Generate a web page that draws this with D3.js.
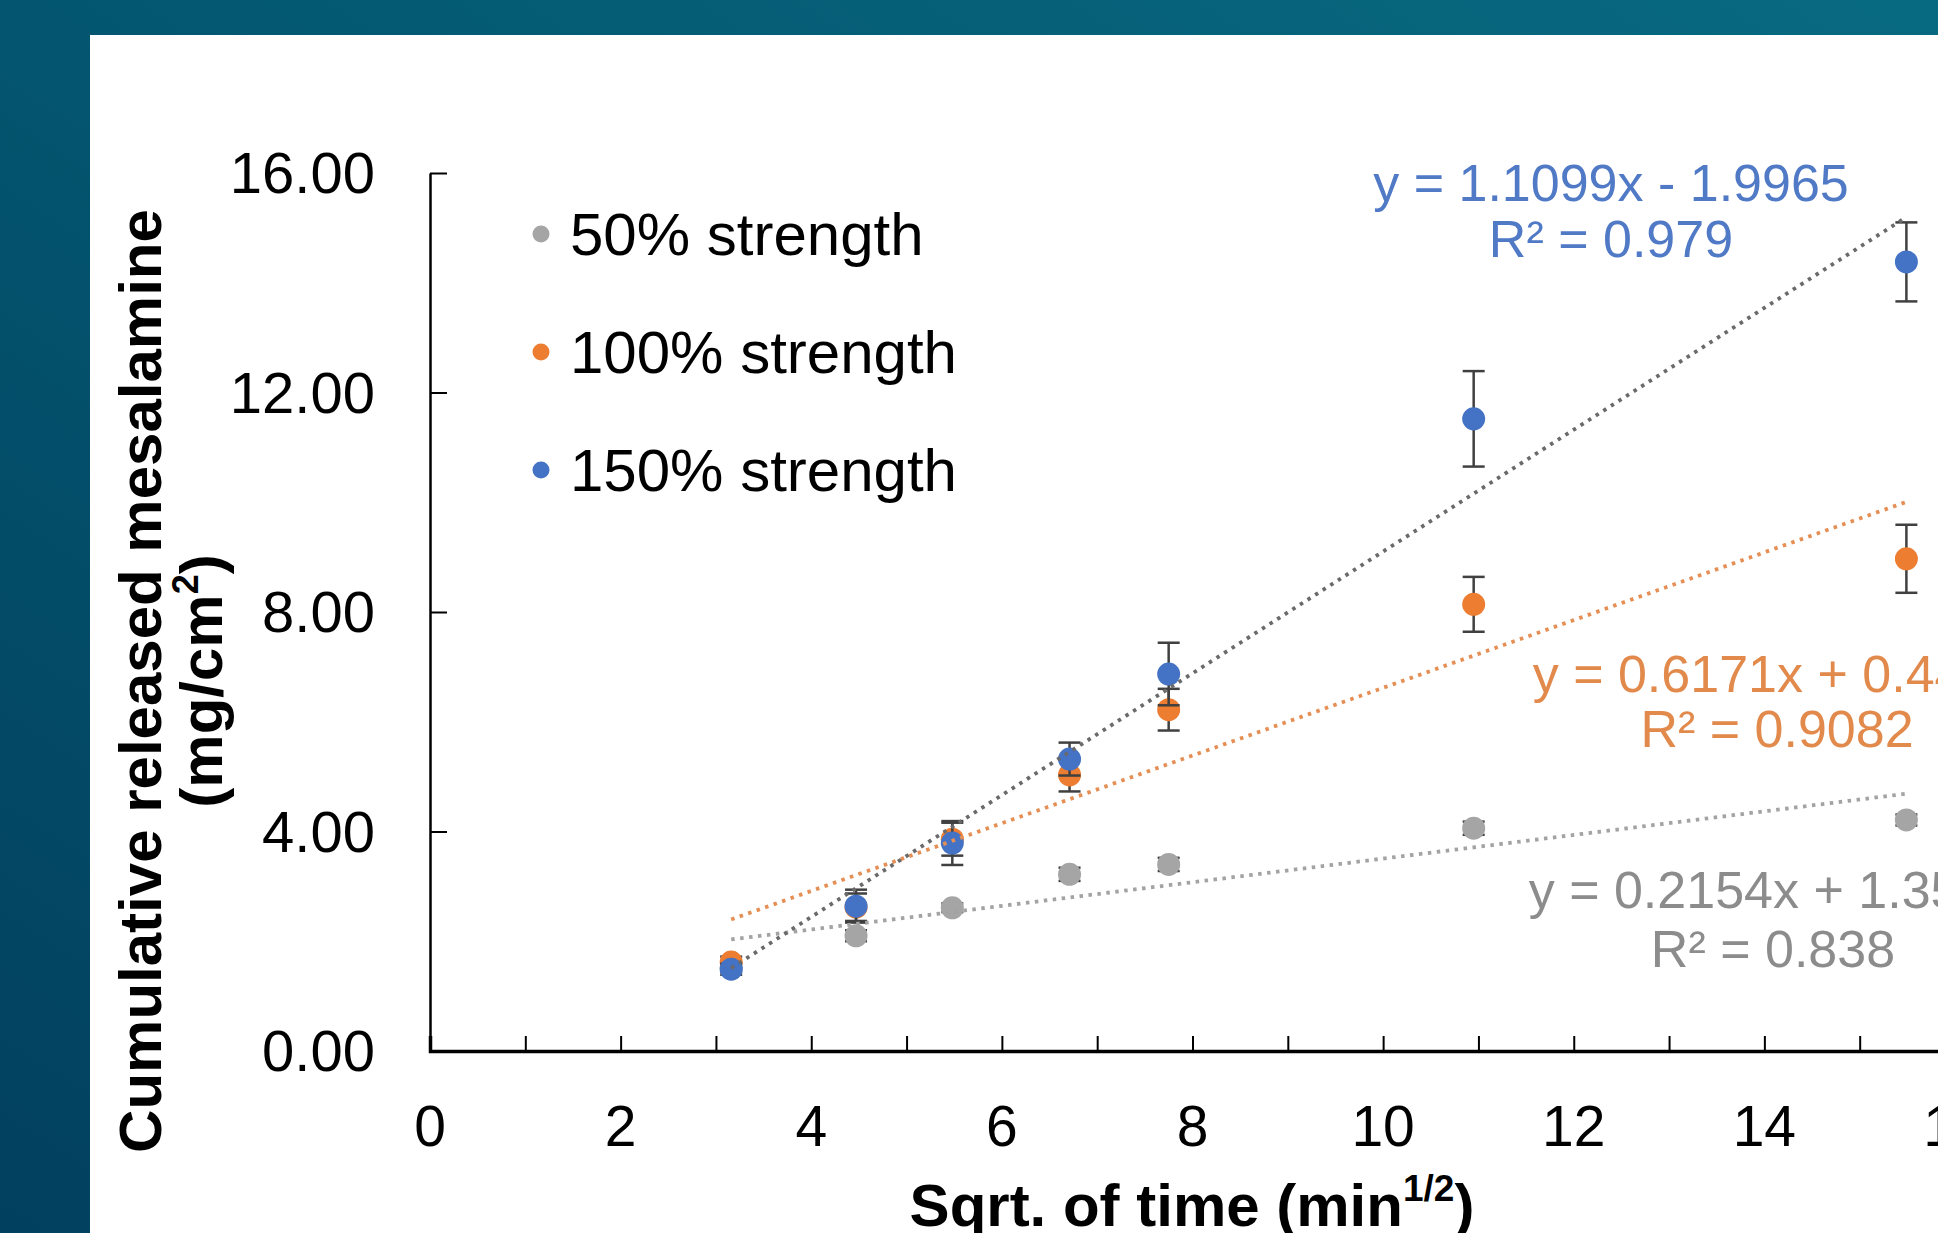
<!DOCTYPE html>
<html>
<head>
<meta charset="utf-8">
<script src="https://cdn.jsdelivr.net/npm/d3@7"></script>
<style>
  html, body { margin: 0; padding: 0; overflow: hidden; }
  svg { display: block; }
  text { font-family: "Liberation Sans", Arial, sans-serif; }
</style>
</head>
<body>
<div id="vis"></div>
<script>
// data
const TIMES = [3.16, 4.47, 5.48, 6.71, 7.75, 10.95, 15.49];   // sqrt(min)
const SERIES_NAMES = ["50% strength", "100% strength", "150% strength"];
const S50  = [1.52, 2.10, 2.61, 3.22, 3.40, 4.06, 4.21];
const E50  = [0.08, 0.10, 0.08, 0.12, 0.12, 0.12, 0.10];
const S100 = [1.62, 2.62, 3.86, 5.03, 6.22, 8.14, 8.97];
const E100 = [0.10, 0.25, 0.30, 0.30, 0.38, 0.50, 0.62];
const S150 = [1.49, 2.64, 3.79, 5.32, 6.87, 11.52, 14.38];
const E150 = [0.10, 0.30, 0.40, 0.30, 0.57, 0.87, 0.72];
const SLOPES = [0.2154, 0.6171, 1.1099];
const INTERCEPTS = [1.3523, 0.4478, -1.9965];
const EQ_TEXT = ["y = 0.2154x + 1.3523", "y = 0.6171x + 0.4478", "y = 1.1099x - 1.9965"];
const R2_TEXT = ["R² = 0.838", "R² = 0.9082", "R² = 0.979"];
const X_TICKS = d3.range(0, 17, 1);
const X_LABELS = d3.range(0, 17, 2);
const Y_TICKS = [0, 4, 8, 12, 16];

const W = 1938, H = 1233;
const COLORS = ["#a5a5a5", "#ed7d31", "#4472c4"];
const TREND_COLORS = ["#a3a3a3", "#e58f55", "#6a6a6a"];
const LABEL_COLORS = ["#8c8c8c", "#e2894c", "#5079c6"];

const svg = d3.select("#vis").append("svg")
  .attr("width", W).attr("height", H);

// background
const grad = svg.append("defs").append("linearGradient")
  .attr("id", "bg").attr("x1", "100%").attr("y1", "0%").attr("x2", "0%").attr("y2", "100%");
grad.append("stop").attr("offset", "0%").attr("stop-color", "#086a80");
grad.append("stop").attr("offset", "40%").attr("stop-color", "#045a73");
grad.append("stop").attr("offset", "100%").attr("stop-color", "#02405f");
svg.append("rect").attr("width", W).attr("height", H).attr("fill", "url(#bg)");
svg.append("rect").attr("x", 90).attr("y", 35).attr("width", W - 90).attr("height", H - 35)
  .attr("fill", "#ffffff");

const X = d3.scaleLinear().domain([0, 16]).range([430, 1955]);
const Y = d3.scaleLinear().domain([0, 16]).range([1051, 173]);

// axes
const xAxis = svg.append("g")
  .attr("transform", "translate(0," + Y(0) + ")")
  .call(d3.axisBottom(X).tickValues(X_TICKS).tickSize(-15).tickFormat(""));
xAxis.select(".domain").attr("stroke", "#000").attr("stroke-width", 3.5);
xAxis.selectAll(".tick line").attr("stroke", "#000").attr("stroke-width", 2);

const yAxis = svg.append("g")
  .attr("transform", "translate(" + X(0) + ",0)")
  .call(d3.axisLeft(Y).tickValues(Y_TICKS).tickSize(-17).tickSizeOuter(0).tickFormat(""));
yAxis.select(".domain").attr("stroke", "#000").attr("stroke-width", 2.5);
yAxis.selectAll(".tick line").attr("stroke", "#000").attr("stroke-width", 2);

svg.append("g").selectAll("text")
  .data(X_LABELS).enter().append("text")
    .attr("x", d => X(d))
    .attr("y", 1146)
    .attr("text-anchor", "middle")
    .attr("font-size", 57)
    .attr("fill", "#000")
    .text(d => d);

svg.append("g").selectAll("text")
  .data(Y_TICKS).enter().append("text")
    .attr("x", 375)
    .attr("y", d => Y(d) + 20)
    .attr("text-anchor", "end")
    .attr("font-size", 58)
    .attr("fill", "#000")
    .text(d => d3.format(".2f")(d));

// axis titles
const xt = svg.append("text")
  .attr("x", 1192).attr("y", 1226)
  .attr("text-anchor", "middle")
  .attr("font-size", 60).attr("font-weight", "bold").attr("fill", "#000");
xt.append("tspan").text("Sqrt. of time (min");
xt.append("tspan").attr("font-size", 37).attr("dy", -25).text("1/2");
xt.append("tspan").attr("dy", 25).text(")");

svg.append("text")
  .attr("transform", "translate(161,681) rotate(-90)")
  .attr("text-anchor", "middle")
  .attr("font-size", 60).attr("font-weight", "bold").attr("fill", "#000")
  .text("Cumulative released mesalamine");
const yt2 = svg.append("text")
  .attr("transform", "translate(222,681) rotate(-90)")
  .attr("text-anchor", "middle")
  .attr("font-size", 60).attr("font-weight", "bold").attr("fill", "#000");
yt2.append("tspan").text("(mg/cm");
yt2.append("tspan").attr("font-size", 36).attr("dy", -24).text("2");
yt2.append("tspan").attr("dy", 24).text(")");

// series
const series = [S50, S100, S150].map((vals, i) => ({
  name: SERIES_NAMES[i],
  color: COLORS[i],
  pts: TIMES.map((t, j) => ({ x: t, y: vals[j], e: [E50, E100, E150][i][j] }))
}));

const plot = svg.append("g");
series.forEach((s) => {
  const g = plot.append("g");
  const eb = g.selectAll(".eb").data(s.pts).enter().append("g");
  eb.append("line")
    .attr("x1", d => X(d.x)).attr("x2", d => X(d.x))
    .attr("y1", d => Y(d.y + d.e)).attr("y2", d => Y(d.y - d.e))
    .attr("stroke", "#404040").attr("stroke-width", 2.5);
  eb.selectAll(".cap").data(d => [d.y + d.e, d.y - d.e].map(v => ({ x: d.x, v: v })))
    .enter().append("line")
    .attr("x1", d => X(d.x) - 11).attr("x2", d => X(d.x) + 11)
    .attr("y1", d => Y(d.v)).attr("y2", d => Y(d.v))
    .attr("stroke", "#404040").attr("stroke-width", 2.5);
  g.selectAll("circle").data(s.pts).enter().append("circle")
    .attr("cx", d => X(d.x)).attr("cy", d => Y(d.y))
    .attr("r", 11.5)
    .attr("fill", s.color);
});

// trendlines
const x0 = TIMES[0], x1 = TIMES[TIMES.length - 1];
SLOPES.forEach((m, i) => {
  plot.append("line")
    .attr("x1", X(x0)).attr("y1", Y(m * x0 + INTERCEPTS[i]))
    .attr("x2", X(x1)).attr("y2", Y(m * x1 + INTERCEPTS[i]))
    .attr("stroke", TREND_COLORS[i])
    .attr("stroke-width", 3.8)
    .attr("stroke-dasharray", "3.5,5.5");
});

// equation labels
const LABEL_POS = [[1773, 908, 967], [1777, 692, 747], [1611, 201, 257]];
LABEL_POS.forEach((p, i) => {
  svg.append("text").attr("x", p[0]).attr("y", p[1])
    .attr("text-anchor", "middle").attr("font-size", 52)
    .attr("fill", LABEL_COLORS[i]).text(EQ_TEXT[i]);
  svg.append("text").attr("x", p[0]).attr("y", p[2])
    .attr("text-anchor", "middle").attr("font-size", 52)
    .attr("fill", LABEL_COLORS[i]).text(R2_TEXT[i]);
});

// legend
const legend = svg.append("g").selectAll("g")
  .data(series).enter().append("g")
    .attr("transform", (d, i) => "translate(541," + (234 + i * 118) + ")");
legend.append("circle").attr("r", 8.5).attr("fill", d => d.color);
legend.append("text")
  .attr("x", 29).attr("y", 21)
  .attr("font-size", 60).attr("fill", "#000")
  .text(d => d.name);
</script>
</body>
</html>
